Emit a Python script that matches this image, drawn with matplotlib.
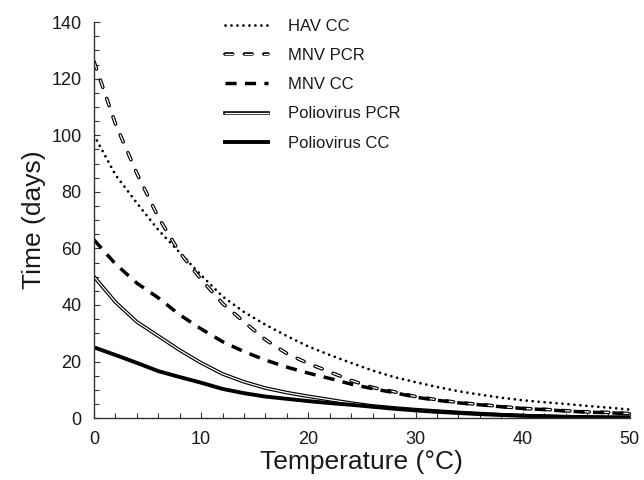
import matplotlib
matplotlib.use('Agg')
import matplotlib.pyplot as plt
from matplotlib.ticker import MultipleLocator

plt.rcParams['font.family'] = ['Liberation Sans', 'DejaVu Sans']
plt.rcParams['lines.scale_dashes'] = False

# temperature (°C)
temp = [0, 2, 4, 6, 8, 10, 12, 14, 16, 18, 20, 22, 24, 26, 28, 30,
        32, 34, 36, 38, 40, 42, 44, 46, 48, 50]

# time (days)
hav_cc = [100, 86, 76, 66.5, 58.5, 50.5, 43, 37.5, 33, 29, 25.3, 22.3, 19.5,
          16.8, 14.5, 12.7, 11, 9.5, 8.3, 7.2, 6.3, 5.6, 5.0, 4.3, 3.7, 3.0]
mnv_pcr = [126, 104, 86.5, 71, 58.5, 49, 40.5, 34, 27.7, 22.8, 19.3, 16.3, 13.3,
           10.8, 9.3, 7.6, 6.5, 5.5, 4.8, 4.1, 3.4, 3.1, 2.6, 2.2, 2.0, 1.6]
mnv_cc = [63, 54.5, 47.7, 42.5, 36.5, 31.5, 27, 23.5, 20.5, 18, 15.9, 14, 12,
          10.4, 9.0, 7.4, 6.3, 5.4, 4.7, 4.0, 3.4, 3.0, 2.5, 2.1, 1.9, 1.5]
polio_pcr = [50, 41, 34, 29, 24, 19.5, 15.6, 12.8, 10.6, 9, 7.7, 6.5, 5.3,
             4.3, 3.6, 3.0, 2.5, 2.0, 1.6, 1.2, 0.9, 0.7, 0.5, 0.4, 0.3, 0.3]
polio_cc = [25, 22.3, 19.5, 16.6, 14.5, 12.5, 10.3, 8.8, 7.6, 6.8, 6.0, 5.3, 4.7,
            4.0, 3.3, 2.7, 2.2, 1.8, 1.4, 1.1, 0.8, 0.6, 0.4, 0.3, 0.2, 0.2]

fig = plt.figure(figsize=(6.44, 4.8), dpi=100)
ax = fig.add_axes([0.146, 0.129, 0.832, 0.825])

h_hav, = ax.plot(temp, hav_cc, color='black', lw=2.0, dash_capstyle='round',
                 linestyle=(0, (0.01, 4.3)))

# double-outlined dashes: black underneath, white on top, same pattern
pcr_dash = (0, (5.5, 8.5))
h_mpcr_b, = ax.plot(temp, mnv_pcr, color='black', lw=2.6, linestyle=pcr_dash,
                    dash_capstyle='round')
h_mpcr_w, = ax.plot(temp, mnv_pcr, color='white', lw=0.9, linestyle=pcr_dash,
                    dash_capstyle='round')

h_mcc, = ax.plot(temp, mnv_cc, color='black', lw=2.5, linestyle=(0, (8.0, 6.0)),
                 dash_capstyle='butt')

h_ppcr_b, = ax.plot(temp, polio_pcr, color='black', lw=2.6)
h_ppcr_w, = ax.plot(temp, polio_pcr, color='white', lw=0.9)

h_pcc, = ax.plot(temp, polio_cc, color='black', lw=2.8)

ax.set_xlim(0, 50)
ax.set_ylim(0, 140)
ax.xaxis.set_major_locator(MultipleLocator(10))
ax.xaxis.set_minor_locator(MultipleLocator(2))
ax.yaxis.set_major_locator(MultipleLocator(20))
ax.yaxis.set_minor_locator(MultipleLocator(5))

for s in ['top', 'right']:
    ax.spines[s].set_visible(False)
for s in ['left', 'bottom']:
    ax.spines[s].set_linewidth(1.0)
    ax.spines[s].set_color('#333333')

ax.tick_params(which='both', direction='in', color='#333333', width=0.8,
               labelsize=13, labelcolor='#1a1a1a')
ax.tick_params(which='major', length=4.5, pad=9)
ax.tick_params(which='minor', length=3.5)

ax.set_xlabel('Temperature (°C)', fontsize=19, color='#1a1a1a', labelpad=2)
ax.set_ylabel('Time (days)', fontsize=19, color='#1a1a1a', labelpad=4)

leg = ax.legend([h_hav, (h_mpcr_b, h_mpcr_w), h_mcc, (h_ppcr_b, h_ppcr_w), h_pcc],
                ['HAV CC', 'MNV PCR', 'MNV CC', 'Poliovirus PCR', 'Poliovirus CC'],
                loc='upper left', bbox_to_anchor=(0.244, 1.008), frameon=False,
                fontsize=12, handlelength=2.6, handletextpad=1.2,
                borderpad=0, borderaxespad=0, labelspacing=0.85)
for t in leg.get_texts():
    t.set_color('#1a1a1a')

fig.savefig('out.png', dpi=100)
